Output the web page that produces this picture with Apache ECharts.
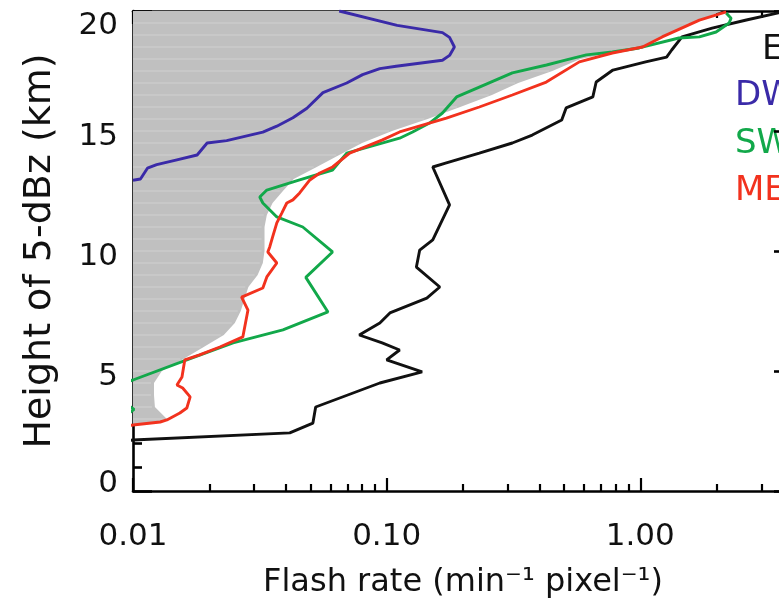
<!DOCTYPE html>
<html>
<head>
<meta charset="utf-8">
<script src="https://cdn.jsdelivr.net/npm/echarts@6/dist/echarts.min.js"></script>
<style>
html, body { margin: 0; padding: 0; overflow: hidden; background: #fff; width: 779px; height: 605px; }
#chart { width: 900px; height: 605px; }
</style>
</head>
<body>
<div id="chart"></div>
<script>
// Axis ranges and tick values
const rateMin = 0.01;
const rateMax = 4;
const rateMajorTicks = [0.01, 0.1, 1];
const rateMinorTicks = [0.02, 0.03, 0.04, 0.05, 0.06, 0.07, 0.08, 0.09,
                        0.2, 0.3, 0.4, 0.5, 0.6, 0.7, 0.8, 0.9, 2, 3];
const heightMin = 0;
const heightMax = 20;
const heightStep = 5;

// Shaded profile (all storms)
const allHeight = [2.75, 2.9, 3.0, 3.5, 4.0, 4.5, 5.0, 5.5, 6.0, 6.5, 7.0, 7.5, 8.0, 8.5, 9.0, 9.5,
                   10.0, 10.5, 11.0, 11.5, 12.0, 12.5, 13.0, 13.5, 14.0, 14.5, 15.0, 15.5,
                   16.0, 16.5, 17.0, 17.5, 18.0, 18.5, 19.0, 19.5, 20.0];
const allRate = [0.0100, 0.0130, 0.0136, 0.0122, 0.0121, 0.0121, 0.0130, 0.0158, 0.0190, 0.0228, 0.0252, 0.0266,
                 0.0275, 0.0285, 0.0310, 0.0325, 0.0330, 0.0330, 0.0330, 0.0337, 0.0355, 0.0390,
                 0.0430, 0.0530, 0.0650, 0.0800, 0.1050, 0.1450, 0.1950, 0.2600, 0.3300,
                 0.4500, 0.5800, 1.0000, 1.2500, 1.6000, 2.1000];

// Line profiles: flash rate (min^-1 pixel^-1) against 5-dBz height (km)
const eHeight = [2.1, 2.125, 2.42, 2.83, 3.5, 4.5, 4.96, 5.46, 5.875, 6.17, 6.5, 7.0, 7.42, 8.04, 8.5,
                 9.33, 10.04, 10.46, 11.92, 13.5, 13.67, 14.08, 14.5, 14.83, 15.46, 15.96, 16.42,
                 17.04, 17.54, 17.88, 18.08, 18.375, 18.92, 19.29, 19.625, 19.92, 20.0];
const eRate = [0.0095, 0.0100, 0.0415, 0.0512, 0.0525, 0.094, 0.138, 0.100, 0.1125, 0.096, 0.078, 0.094,
               0.103, 0.144, 0.162, 0.131, 0.135, 0.152, 0.177, 0.152, 0.172, 0.232, 0.313, 0.375,
               0.49, 0.51, 0.65, 0.67, 0.78, 1.05, 1.27, 1.33, 1.46, 1.92, 2.62, 3.5, 3.9];

const dwHeight = [12.95, 13.0, 13.45, 13.6, 13.8, 14.0, 14.5, 14.6, 14.95, 15.2, 15.55, 15.95, 16.6,
                  17.0, 17.35, 17.6, 17.7, 17.95, 18.15, 18.5, 18.9, 19.1, 19.4, 20.0];
const dwRate = [0.0100, 0.0107, 0.0114, 0.0124, 0.0149, 0.0179, 0.0196, 0.0234, 0.0325, 0.0369, 0.0427,
                0.0485, 0.0561, 0.0696, 0.0804, 0.094, 0.109, 0.166, 0.177, 0.185, 0.177, 0.166, 0.110, 0.065];

const swHeight = [3.2, 3.4, 3.6, 4.3, 4.625, 5.46, 6.17, 6.71, 7.46, 8.9, 9.96, 11.0, 11.42, 12.0, 12.25,
                  12.54, 12.96, 13.375, 14.08, 14.7, 14.96, 15.33, 15.75, 16.42, 16.83, 17.42, 17.75,
                  17.96, 18.17, 18.29, 18.46, 18.875, 18.92, 19.125, 19.5, 19.7, 19.92];
const swRate = [0.0095, 0.0101, 0.0095, 0.0080, 0.0100, 0.0163, 0.0248, 0.0390, 0.0587, 0.0480, 0.0612,
                0.0467, 0.0369, 0.0325, 0.0316, 0.0337, 0.0454, 0.0612, 0.0696, 0.1125, 0.1266, 0.1476,
                0.166, 0.1887, 0.232, 0.313, 0.427, 0.511, 0.613, 0.776, 0.99, 1.42, 1.71, 1.99, 2.24,
                2.28, 2.18];

const meHeight = [2.7, 2.75, 2.875, 2.96, 3.25, 3.46, 3.92, 4.29, 4.42, 4.75, 5.46, 5.67, 6.0, 6.42, 7.54,
                  8.08, 8.46, 8.92, 9.5, 9.96, 10.17, 10.58, 11.17, 11.58, 12.0, 12.13, 12.42, 12.96,
                  13.25, 13.5, 14.08, 14.63, 14.96, 15.54, 16.0, 16.5, 17.04, 17.88, 18.25, 18.5,
                  18.92, 19.62, 19.96];
const meRate = [0.0090, 0.0100, 0.0128, 0.0136, 0.0153, 0.0163, 0.0168, 0.0157, 0.0149, 0.0156, 0.0160,
                0.0183, 0.0220, 0.0271, 0.0284, 0.0268, 0.0325, 0.0337, 0.0369, 0.0340, 0.0346, 0.0355,
                0.0369, 0.0386, 0.0404, 0.0427, 0.0454, 0.0498, 0.0545, 0.0612, 0.0715, 0.0963, 0.1125,
                0.172, 0.232, 0.313, 0.426, 0.575, 0.776, 1.02, 1.22, 1.71, 2.18];

const seriesNames = ['E', 'DW', 'SW', 'ME'];
const seriesColors = ['#111111', '#3a2aa8', '#12a84a', '#f2321e'];
const seriesRates = [eRate, dwRate, swRate, meRate];
const seriesHeights = [eHeight, dwHeight, swHeight, meHeight];

const FONT = 'DejaVu Sans';
const pairs = (r, h) => r.map((v, i) => [v, h[i]]);

const chart = echarts.init(document.getElementById('chart'), null, { renderer: 'canvas' });

const xBase = {
  type: 'log', logBase: 10, min: rateMin, max: rateMax,
  gridIndex: 0, splitLine: { show: false }
};
const yBase = {
  type: 'value', min: heightMin, max: heightMax, interval: heightStep,
  gridIndex: 0, splitLine: { show: false }
};

const option = {
  animation: false,
  backgroundColor: '#ffffff',
  grid: { left: 133, top: 11, width: 660, height: 480, containLabel: false },
  xAxis: [
    Object.assign({}, xBase, {
      position: 'bottom',
      axisLine: { show: true, lineStyle: { color: '#000', width: 2.6 } },
      axisTick: { show: true, inside: true, length: 13, customValues: rateMajorTicks,
                  lineStyle: { color: '#000', width: 2.2 } },
      axisLabel: { show: true, customValues: rateMajorTicks, margin: 30,
                   fontFamily: FONT, fontSize: 31, color: '#111',
                   formatter: v => Number(v).toFixed(2) },
      name: 'Flash rate (min\u207B\u00B9 pixel\u207B\u00B9)',
      nameLocation: 'middle', nameGap: 76,
      nameTextStyle: { fontFamily: FONT, fontSize: 32, color: '#111' }
    }),
    Object.assign({}, xBase, {
      position: 'bottom',
      axisLine: { show: false },
      axisTick: { show: true, inside: true, length: 7, customValues: rateMinorTicks,
                  lineStyle: { color: '#000', width: 2.2 } },
      axisLabel: { show: false }
    }),
    Object.assign({}, xBase, {
      position: 'top',
      axisLine: { show: true, lineStyle: { color: '#000', width: 2.6 } },
      axisTick: { show: true, inside: true, length: 13, customValues: rateMajorTicks,
                  lineStyle: { color: '#000', width: 2.2 } },
      axisLabel: { show: false }
    }),
    Object.assign({}, xBase, {
      position: 'top',
      axisLine: { show: false },
      axisTick: { show: true, inside: true, length: 7, customValues: rateMinorTicks,
                  lineStyle: { color: '#000', width: 2.2 } },
      axisLabel: { show: false }
    })
  ],
  yAxis: [
    Object.assign({}, yBase, {
      position: 'left',
      axisLine: { show: true, lineStyle: { color: '#000', width: 2.6 } },
      axisTick: { show: true, inside: true, length: 19, lineStyle: { color: '#000', width: 2.6 } },
      minorTick: { show: true, splitNumber: 5, length: 9, lineStyle: { color: '#000', width: 2.6 } },
      axisLabel: {
        show: true, margin: 15, fontFamily: FONT, fontSize: 31, color: '#111',
        formatter: v => v === heightMax ? '{t|' + v + '}' : (v === heightMin ? '{b|' + v + '}' : '{m|' + v + '}'),
        rich: {
          t: { padding: [30, 0, 0, 0] },
          b: { padding: [0, 0, 14, 0] },
          m: { padding: [12, 0, 0, 0] }
        }
      },
      name: 'Height of 5-dBz (km)',
      nameLocation: 'middle', nameGap: 74,
      nameTextStyle: { fontFamily: FONT, fontSize: 38, color: '#111' }
    }),
    Object.assign({}, yBase, {
      position: 'right',
      axisLine: { show: true, lineStyle: { color: '#000', width: 2.6 } },
      axisTick: { show: true, inside: true, length: 19, lineStyle: { color: '#000', width: 2.6 } },
      minorTick: { show: true, splitNumber: 5, length: 9, lineStyle: { color: '#000', width: 2.6 } },
      axisLabel: { show: false }
    })
  ],
  graphic: seriesNames.map((name, i) => ({
    type: 'text',
    left: i === 0 ? 762 : 735,
    top: [33, 79, 127, 174][i],
    silent: true,
    style: { text: name, fill: seriesColors[i], font: '34px "' + FONT + '"' }
  })),
  series: [
    {
      type: 'custom',
      name: 'ALL',
      xAxisIndex: 0, yAxisIndex: 0,
      data: pairs(allRate, allHeight),
      clip: true, silent: true, z: 1,
      renderItem: function (params, api) {
        if (params.dataIndex !== 0) return null;
        const last = allHeight.length - 1;
        const pts = [api.coord([rateMin, allHeight[0]])];
        for (let i = 0; i <= last; i++) pts.push(api.coord([allRate[i], allHeight[i]]));
        pts.push(api.coord([rateMin, allHeight[last]]));
        const children = [{ type: 'polygon', shape: { points: pts }, style: { fill: '#c0c0c0' } }];
        // faint level lines across the shaded profile
        for (let i = 2; i < last; i++) {
          const a = api.coord([rateMin, allHeight[i]]);
          const b = api.coord([allRate[i], allHeight[i]]);
          children.push({ type: 'line', shape: { x1: a[0], y1: a[1], x2: b[0] - 3, y2: b[1] },
                          style: { stroke: '#cfcfcf', lineWidth: 1.2 } });
        }
        return { type: 'group', children: children };
      }
    }
  ].concat(seriesNames.map((name, i) => ({
    type: 'line',
    name: name,
    xAxisIndex: 0, yAxisIndex: 0,
    data: pairs(seriesRates[i], seriesHeights[i]),
    symbol: 'none', smooth: false, clip: true, z: 3 + i,
    lineStyle: { color: seriesColors[i], width: 2.9 },
    itemStyle: { color: seriesColors[i] }
  })))
};

chart.setOption(option);
</script>
</body>
</html>
